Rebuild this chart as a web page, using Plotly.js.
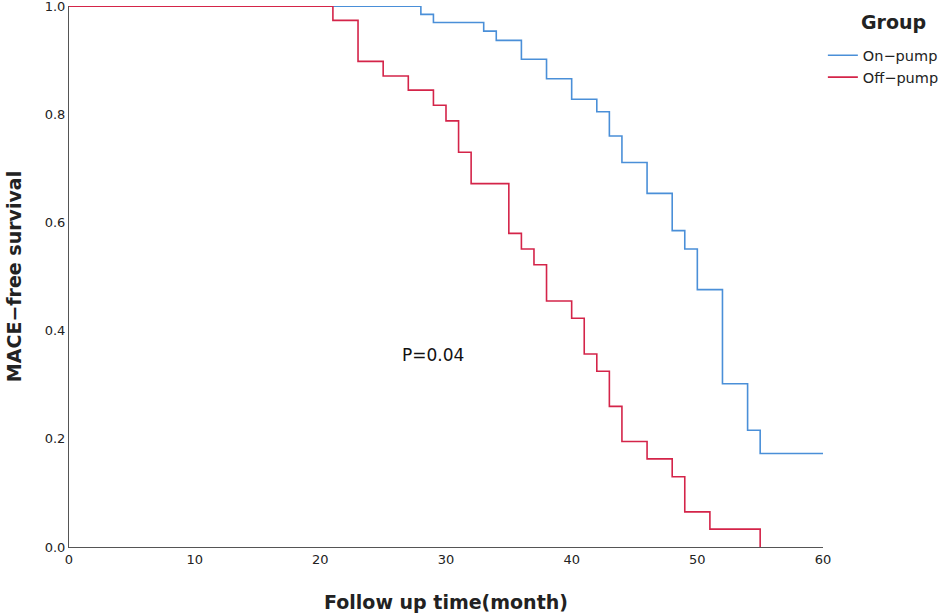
<!DOCTYPE html>
<html>
<head>
<meta charset="utf-8">
<script src="https://cdn.plot.ly/plotly-3.0.1.min.js"></script>
<style>html,body{margin:0;padding:0;background:#fff;}#chart{width:948px;height:615px;}</style>
</head>
<body>
<div id="chart"></div>
<script>
// Kaplan-Meier step data
var onPumpTimes = [0, 28, 29, 33, 34, 36, 38, 40, 42, 43, 44, 46, 48, 49, 50, 52, 54, 55, 60];
var onPumpSurv  = [1.0, 0.985, 0.970, 0.954, 0.937, 0.902, 0.866, 0.828, 0.805, 0.760, 0.711, 0.654, 0.585, 0.551, 0.476, 0.302, 0.216, 0.173, 0.173];
var offPumpTimes = [0, 21, 23, 25, 27, 29, 30, 31, 32, 35, 36, 37, 38, 40, 41, 42, 43, 44, 46, 48, 49, 51, 55];
var offPumpSurv  = [1.0, 0.974, 0.898, 0.871, 0.845, 0.817, 0.788, 0.730, 0.672, 0.580, 0.551, 0.522, 0.455, 0.423, 0.357, 0.325, 0.260, 0.195, 0.163, 0.130, 0.065, 0.033, 0.0];
var groupNames = ["On\u2212pump", "Off\u2212pump"];
var legendTitle = "Group";
var xTicks = [0, 10, 20, 30, 40, 50, 60];
var yTicks = [0.0, 0.2, 0.4, 0.6, 0.8, 1.0];
var pText = "P=0.04";
var pPos = {x: 29, y: 0.355};

var font = "DejaVu Sans, Verdana, sans-serif";

var traces = [
  {x: onPumpTimes, y: onPumpSurv, name: groupNames[0], mode: "lines",
   line: {shape: "hv", color: "#4a8fd8", width: 1.6}},
  {x: offPumpTimes, y: offPumpSurv, name: groupNames[1], mode: "lines",
   line: {shape: "hv", color: "#d42449", width: 1.6}}
];

var layout = {
  width: 948, height: 615,
  margin: {l: 69, r: 125, t: 6, b: 68, autoexpand: false},
  paper_bgcolor: "#fff", plot_bgcolor: "#fff",
  font: {family: font, size: 13, color: "#222"},
  showlegend: true,
  legend: {
    xref: "container", yref: "container",
    x: 0.868, xanchor: "left", y: 0.936, yanchor: "top",
    font: {size: 14.5, color: "#222", family: font},
    tracegroupgap: 0, itemwidth: 30, bgcolor: "rgba(0,0,0,0)"
  },
  xaxis: {
    range: [0, 60], tickvals: xTicks, ticktext: xTicks.map(String),
    showgrid: false, zeroline: false, showline: true, linecolor: "#555", linewidth: 1,
    ticks: "", tickfont: {size: 13, color: "#222"}, ticklabeloverflow: "allow",
    title: {text: "<b>Follow up time(month)</b>", font: {size: 19, color: "#222", family: font}, standoff: 30}
  },
  yaxis: {
    range: [0, 1.0005], tickvals: yTicks, ticktext: yTicks.map(function(v){return v.toFixed(1);}),
    showgrid: false, zeroline: false, showline: true, linecolor: "#555", linewidth: 1,
    ticks: "", tickfont: {size: 13, color: "#222"}, ticklabeloverflow: "allow",
    title: {text: "<b>MACE\u2212free survival</b>", font: {size: 19, color: "#222", family: font}, standoff: 18}
  },
  annotations: [
    {x: pPos.x, y: pPos.y, xref: "x", yref: "y", text: pText, showarrow: false,
     font: {size: 17, color: "#111", family: font}},
    {x: 1.093, y: 0.970, xref: "paper", yref: "paper", text: "<b>" + legendTitle + "</b>",
     showarrow: false, xanchor: "center", yanchor: "middle",
     font: {size: 19, color: "#222", family: font}}
  ]
};

Plotly.newPlot("chart", traces, layout, {displayModeBar: false, staticPlot: true});
</script>
</body>
</html>
